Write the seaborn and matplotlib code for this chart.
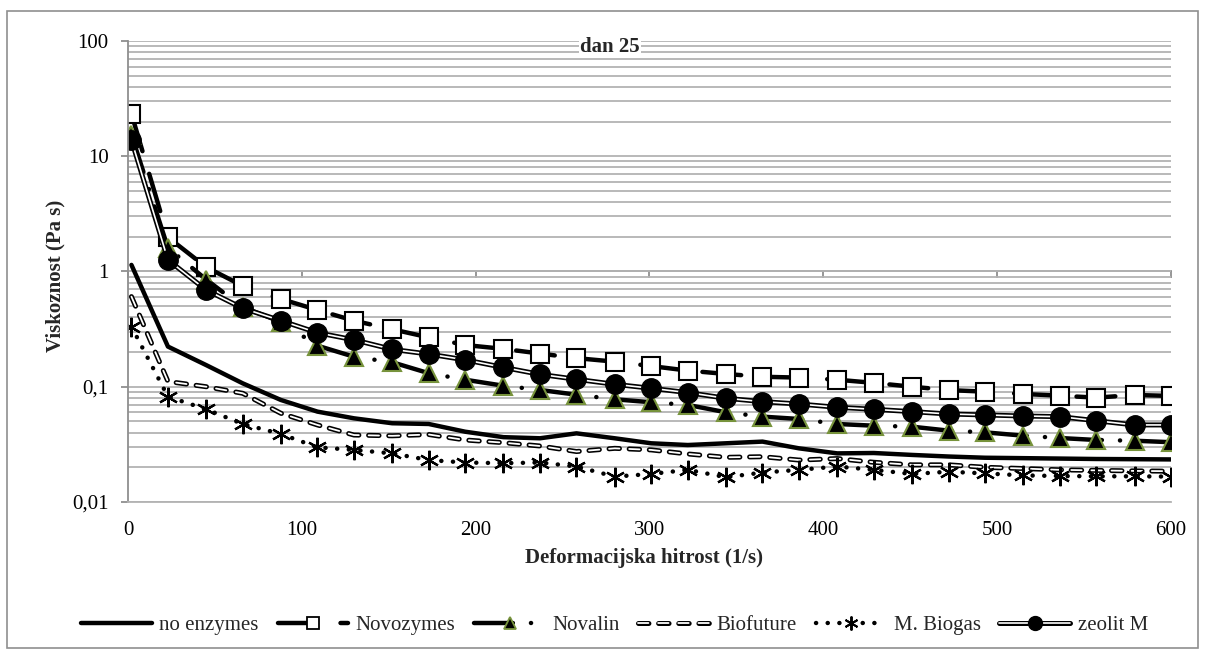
import matplotlib
matplotlib.use("Agg")
import matplotlib.pyplot as plt
from matplotlib.lines import Line2D
from matplotlib.patches import Rectangle
from matplotlib.ticker import LogLocator, FuncFormatter, NullFormatter
import seaborn as sns

# ---- data ----
shear_rate = [2, 23, 45, 66, 88, 109, 130, 152, 173, 194, 216, 237, 258, 280, 301,
              322, 344, 365, 386, 408, 429, 451, 472, 493, 515, 536, 557, 579, 600]

no_enzymes = [1.14, 0.223, 0.154, 0.107, 0.0767, 0.0608, 0.0532, 0.0482, 0.0475, 0.0407,
              0.0365, 0.0357, 0.0394, 0.0357, 0.0323, 0.0312, 0.0323, 0.0334, 0.0292, 0.0264,
              0.0266, 0.0256, 0.0248, 0.0242, 0.0240, 0.0238, 0.0236, 0.0235, 0.0234]
novozymes = [23.3, 1.98, 1.09, 0.75, 0.577, 0.463, 0.374, 0.315, 0.268, 0.230,
             0.213, 0.194, 0.177, 0.165, 0.151, 0.138, 0.129, 0.122, 0.120, 0.115,
             0.108, 0.100, 0.0935, 0.0906, 0.0865, 0.0836, 0.0804, 0.0848, 0.0832]
novalin = [15.3, 1.6, 0.85, 0.49, 0.365, 0.227, 0.182, 0.163, 0.131, 0.115,
           0.102, 0.0937, 0.0853, 0.0778, 0.0733, 0.0695, 0.0600, 0.0550, 0.0525, 0.0475,
           0.0459, 0.0450, 0.0416, 0.0402, 0.0376, 0.0359, 0.0345, 0.0340, 0.0330]
biofuture = [0.605, 0.111, 0.100, 0.0877, 0.0588, 0.0466, 0.0381, 0.0375, 0.0385, 0.0345,
             0.0327, 0.0306, 0.0274, 0.0292, 0.0283, 0.0261, 0.0244, 0.0247, 0.0231, 0.0238,
             0.0221, 0.0210, 0.0210, 0.0200, 0.0195, 0.0190, 0.0188, 0.0186, 0.0185]
m_biogas = [0.332, 0.082, 0.0637, 0.0475, 0.0389, 0.0298, 0.0283, 0.0264, 0.0231, 0.0220,
            0.0217, 0.0220, 0.0203, 0.0166, 0.0175, 0.0190, 0.0164, 0.0180, 0.0190, 0.0203,
            0.0190, 0.0175, 0.0183, 0.0177, 0.0170, 0.0168, 0.0167, 0.0167, 0.0166]
zeolit_m = [13.8, 1.26, 0.69, 0.48, 0.374, 0.294, 0.255, 0.211, 0.192, 0.171,
            0.147, 0.128, 0.116, 0.105, 0.0969, 0.0889, 0.0794, 0.0742, 0.0708, 0.0663,
            0.0637, 0.0608, 0.0580, 0.0569, 0.0557, 0.0550, 0.0507, 0.0466, 0.0466]

series_names = ["no enzymes", "Novozymes", "Novalin", "Biofuture", "M. Biogas", "zeolit M"]
x_ticks = [0, 100, 200, 300, 400, 500, 600]

# ---- style ----
sns.set_theme(style="white")
plt.rcParams["font.family"] = ["Liberation Serif", "DejaVu Serif"]
plt.rcParams["lines.scale_dashes"] = False

FS = 15
GRID = "#b3b3b3"
AXIS = "#8f8f8f"
GREEN = "#77933C"

fig = plt.figure(figsize=(12.05, 6.52), dpi=100)
ax = fig.add_axes([0.1062, 0.2301, 0.8656, 0.7071])


def draw(y, **kw):
    base = dict(color="black", estimator=None, errorbar=None, sort=False, legend=False,
                dash_capstyle="round", solid_capstyle="round")
    base.update(kw)
    sns.lineplot(x=shear_rate, y=y, ax=ax, **base)


# no enzymes - solid thick line
draw(no_enzymes, lw=3.2)
# Novozymes - long dash + open squares
draw(novozymes, lw=3.2, linestyle=(0, (28, 17)), marker="s", markersize=13.5,
     markerfacecolor="white", markeredgecolor="black", markeredgewidth=1.5)
# Novalin - long dash dot + triangles
draw(novalin, lw=3.2, linestyle=(0, (28, 13, 0.1, 13)), marker="^", markersize=13,
     markerfacecolor="black", markeredgecolor=GREEN, markeredgewidth=1.5)
# Biofuture - hollow dashes
draw(biofuture, lw=3.6, linestyle=(0, (7.5, 7)))
draw(biofuture, lw=1.3, color="white", linestyle=(0, (7.5, 7)))
# M. Biogas - dots + asterisks
draw(m_biogas, lw=3.2, linestyle=(0, (0.1, 8.3)), marker=(6, 2, 0), markersize=14,
     markeredgecolor="black", markeredgewidth=1.6)
# zeolit M - double line + filled circles
draw(zeolit_m, lw=3.6)
draw(zeolit_m, lw=1.2, color="white")
draw(zeolit_m, linestyle="none", marker="o", markersize=14,
     markerfacecolor="black", markeredgecolor="black", markeredgewidth=1)

# ---- axes ----
ax.set_yscale("log")
ax.set_ylim(0.01, 100)
ax.set_xlim(0, 600)
ax.set_xticks(x_ticks)
ax.yaxis.set_minor_locator(LogLocator(base=10, subs=range(2, 10)))
ax.yaxis.set_minor_formatter(NullFormatter())
ax.yaxis.set_major_formatter(FuncFormatter(lambda v, p: f"{v:g}".replace(".", ",")))
ax.grid(False)
ax.grid(which="both", axis="y", color=GRID, lw=1.3)
ax.set_axisbelow(True)

for s in ["top", "right"]:
    ax.spines[s].set_visible(False)
ax.spines["left"].set_color(AXIS)
ax.spines["left"].set_linewidth(1.3)
ax.spines["bottom"].set_color(GRID)
ax.spines["bottom"].set_linewidth(1.3)

ax.tick_params(axis="x", length=0, pad=14, labelsize=FS, labelcolor="black")
ax.tick_params(axis="y", which="major", left=True, length=5, width=1.3, color=AXIS,
               pad=9, labelsize=FS, labelcolor="black")
ax.tick_params(axis="y", which="minor", left=False, length=0)

# horizontal axis crosses at 1 (Excel style), tick marks only
sec = ax.secondary_xaxis(0.5)
sec.set_alignment("bottom")
sec.set_xticks(x_ticks)
sec.xaxis.set_major_formatter(NullFormatter())
sec.tick_params(axis="x", which="both", bottom=True, top=False, labelbottom=False,
                labeltop=False, length=5, width=1.3, color=AXIS, direction="out")
for s in sec.spines.values():
    s.set_color(AXIS)
    s.set_linewidth(1.3)

ax.set_xlabel("Deformacijska hitrost (1/s)", fontsize=FS, fontweight="bold")
ax.xaxis.set_label_coords(0.495, -0.10)
ax.set_ylabel("Viskoznost (Pa s)", fontsize=FS, fontweight="bold")
ax.yaxis.set_label_coords(-0.06, 0.49)

ax.text(0.462, 0.987, "dan 25", transform=ax.transAxes, ha="center", va="center",
        fontsize=FS, fontweight="bold", clip_on=False,
        bbox=dict(facecolor="white", edgecolor="none", pad=1))

# ---- legend ----
h_none = Line2D([], [], color="black", lw=3.2, solid_capstyle="round")
h_novo = Line2D([], [], color="black", lw=3.2, linestyle=(0, (28, 17)), dash_capstyle="round",
                marker="s", markersize=9, markerfacecolor="white", markeredgecolor="black",
                markeredgewidth=1.3)
h_novalin = Line2D([], [], color="black", lw=3.2, linestyle=(0, (28, 13, 0.1, 13)),
                   dash_capstyle="round", marker="^", markersize=9, markerfacecolor="black",
                   markeredgecolor=GREEN, markeredgewidth=1.3)
h_bio = (Line2D([], [], color="black", lw=3.6, linestyle=(0, (7.5, 7)), dash_capstyle="round"),
         Line2D([], [], color="white", lw=1.3, linestyle=(0, (7.5, 7)), dash_capstyle="round"))
h_biogas = Line2D([], [], color="black", lw=3.2, linestyle=(0, (0.1, 8.3)), dash_capstyle="round",
                  marker=(6, 2, 0), markersize=10, markeredgecolor="black", markeredgewidth=1.4)
h_zeo = (Line2D([], [], color="black", lw=3.6),
         Line2D([], [], color="white", lw=1.2),
         Line2D([], [], linestyle="none", marker="o", markersize=10, color="black"))

fig.legend([h_none, h_novo, h_novalin, h_bio, h_biogas, h_zeo], series_names,
           loc="center", bbox_to_anchor=(0.51, 0.041), ncol=6, frameon=False,
           fontsize=FS, handlelength=3.4, handletextpad=0.35, columnspacing=0.9,
           numpoints=1)

# chart area border
fig.patches.append(Rectangle((7 / 1205, 1 - 648 / 652), 1191 / 1205, 637 / 652,
                             transform=fig.transFigure, fill=False,
                             edgecolor=AXIS, lw=1.2))

fig.savefig("out.png", dpi=100)
